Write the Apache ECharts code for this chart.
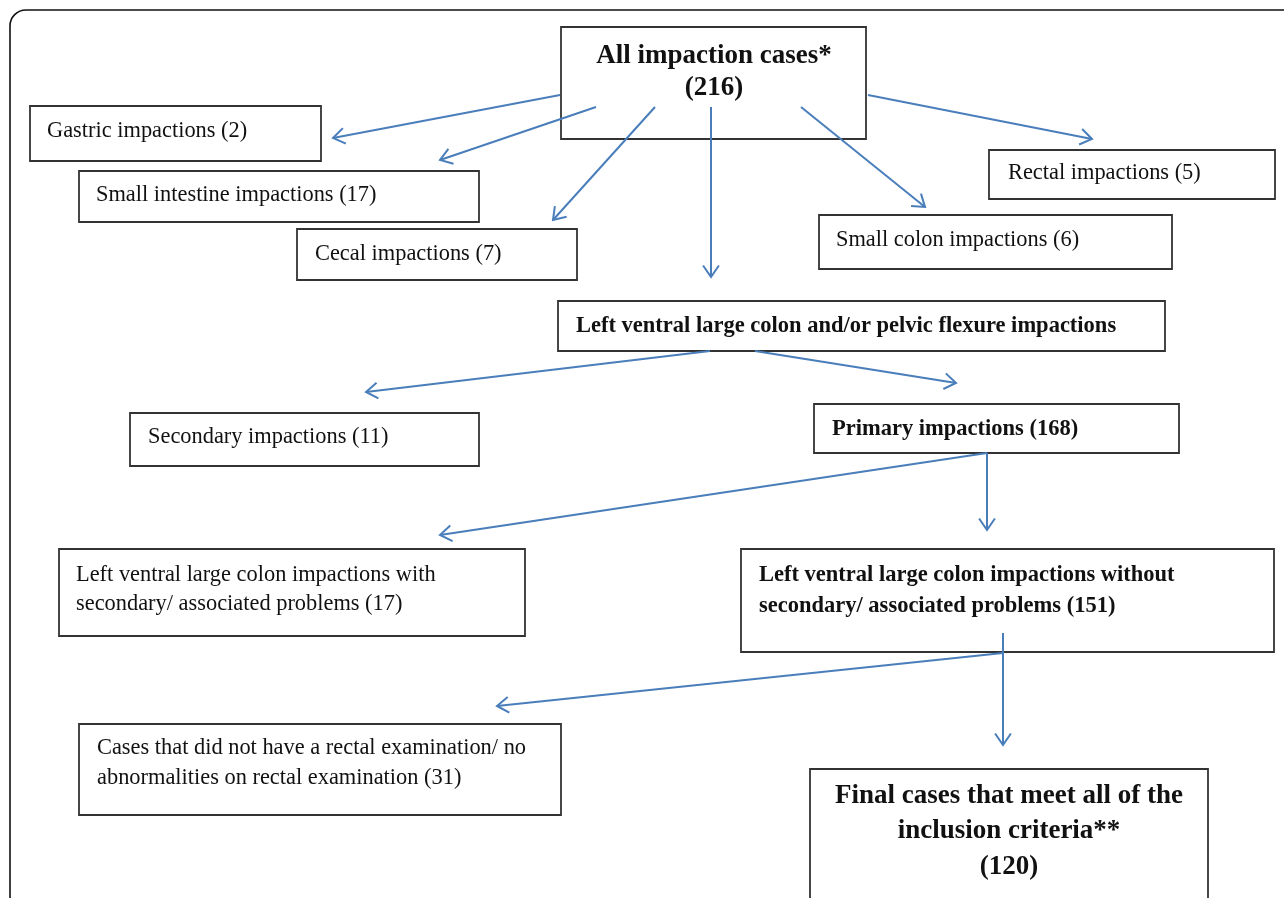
<!DOCTYPE html>
<html><head><meta charset="utf-8">
<script src="https://cdn.jsdelivr.net/npm/echarts@6/dist/echarts.min.js"></script>
<style>html,body{margin:0;padding:0;background:#fff}#c{width:1284px;height:898px}</style>
</head><body><div id="c"></div>
<script>
// ---- data ----
const categories = [
  'All impaction cases*',
  'Gastric impactions',
  'Small intestine impactions',
  'Cecal impactions',
  'Rectal impactions',
  'Small colon impactions',
  'Left ventral large colon and/or pelvic flexure impactions',
  'Secondary impactions',
  'Primary impactions',
  'Left ventral large colon impactions with\nsecondary/ associated problems',
  'Left ventral large colon impactions without\nsecondary/ associated problems',
  'Cases that did not have a rectal examination/ no\nabnormalities on rectal examination',
  'Final cases that meet all of the\ninclusion criteria**'
];
const counts = [216, 2, 17, 7, 5, 6, null, 11, 168, 17, 151, 31, 120];
const edges = [[0,1],[0,2],[0,3],[0,6],[0,5],[0,4],[6,7],[6,8],[8,9],[8,10],[10,11],[10,12]];

// ---- layout (positions / styles) ----
const boxLayout = [
  {b:[561,27,866,139], t:[714,72], a:'center', s:27, w:'bold', lh:32, nl:true},
  {b:[30,106,321,161], t:[47,131], a:'left', s:22.4, w:'normal', lh:29},
  {b:[79,171,479,222], t:[96,195], a:'left', s:22.4, w:'normal', lh:29},
  {b:[297,229,577,280], t:[315,254], a:'left', s:22.4, w:'normal', lh:29},
  {b:[989,150,1275,199], t:[1008,173], a:'left', s:22.4, w:'normal', lh:29},
  {b:[819,215,1172,269], t:[836,240], a:'left', s:22.4, w:'normal', lh:29},
  {b:[558,301,1165,351], t:[576,326], a:'left', s:22.5, w:'bold', lh:29},
  {b:[130,413,479,466], t:[148,437], a:'left', s:22.4, w:'normal', lh:29},
  {b:[814,404,1179,453], t:[832,429], a:'left', s:22.5, w:'bold', lh:29},
  {b:[59,549,525,636], t:[76,589.5], a:'left', s:22.4, w:'normal', lh:29},
  {b:[741,549,1274,652], t:[759,590.5], a:'left', s:22.5, w:'bold', lh:31},
  {b:[79,724,561,815], t:[97,763], a:'left', s:22.4, w:'normal', lh:30},
  {b:[810,769,1208,930], t:[1009,831.5], a:'center', s:27, w:'bold', lh:35.5, nl:true}
];
const arrowLayout = [
  [560,95,333,138],[596,107,440,160],[655,107,553,220],[711,107,711,277],
  [801,107,925,207],[868,95,1092,139],[710,351,366,392],[755,351,956,383],
  [987,453,440,535],[987,453,987,530],[1003,653,497,706],[1003,633,1003,745]
];
const ARROW = '#4a7ebb';
const FONT = '"Liberation Serif","Times New Roman",serif';

function labelOf(i){
  if (counts[i] == null) return categories[i];
  return categories[i] + (boxLayout[i].nl ? '\n' : ' ') + '(' + counts[i] + ')';
}

const chart = echarts.init(document.getElementById('c'), null, {renderer:'canvas'});
chart.setOption({
  animation:false,
  grid:{left:0,right:0,top:0,bottom:0},
  xAxis:{type:'value',min:0,max:1284,show:false},
  yAxis:{type:'value',min:0,max:898,inverse:true,show:false},
  series:[
    {
      type:'custom', coordinateSystem:'cartesian2d', clip:false,
      data:[[0]],
      renderItem:function(params, api){
        const p0 = api.coord([10,10]), p1 = api.coord([1300,930]);
        return {type:'rect', shape:{x:p0[0],y:p0[1],width:p1[0]-p0[0],height:p1[1]-p0[1],r:16},
          style:{fill:'none',stroke:'#111',lineWidth:1.6}};
      }
    },
    {
      type:'custom', coordinateSystem:'cartesian2d', clip:false,
      data:categories.map((c,i)=>[i]),
      renderItem:function(params, api){
        const i = api.value(0), L = boxLayout[i];
        const p0 = api.coord([L.b[0],L.b[1]]), p1 = api.coord([L.b[2],L.b[3]]);
        const tp = api.coord(L.t);
        return {type:'group', children:[
          {type:'rect', shape:{x:p0[0],y:p0[1],width:p1[0]-p0[0],height:p1[1]-p0[1]},
            style:{fill:'#fff',stroke:'#333',lineWidth:1.8}},
          {type:'text', style:{text:labelOf(i), x:tp[0], y:tp[1], align:L.a, verticalAlign:'middle',
            font:L.w+' '+L.s+'px '+FONT, lineHeight:L.lh, fill:'#111'}}
        ]};
      }
    },
    {
      type:'custom', coordinateSystem:'cartesian2d', clip:false,
      data:edges.map((e,k)=>[k, e[0], e[1]]),
      renderItem:function(params, api){
        const k = api.value(0), A = arrowLayout[k];
        const s = api.coord([A[0],A[1]]), t = api.coord([A[2],A[3]]);
        const ang = Math.atan2(t[1]-s[1], t[0]-s[0]);
        const len = 14, da = 0.6;
        const h1 = [t[0]-len*Math.cos(ang-da), t[1]-len*Math.sin(ang-da)];
        const h2 = [t[0]-len*Math.cos(ang+da), t[1]-len*Math.sin(ang+da)];
        return {type:'group', children:[
          {type:'line', shape:{x1:s[0],y1:s[1],x2:t[0],y2:t[1]}, style:{stroke:ARROW,lineWidth:2}},
          {type:'polyline', shape:{points:[h1,t,h2]}, style:{stroke:ARROW,lineWidth:2,fill:null}}
        ]};
      }
    }
  ]
});
</script></body></html>
